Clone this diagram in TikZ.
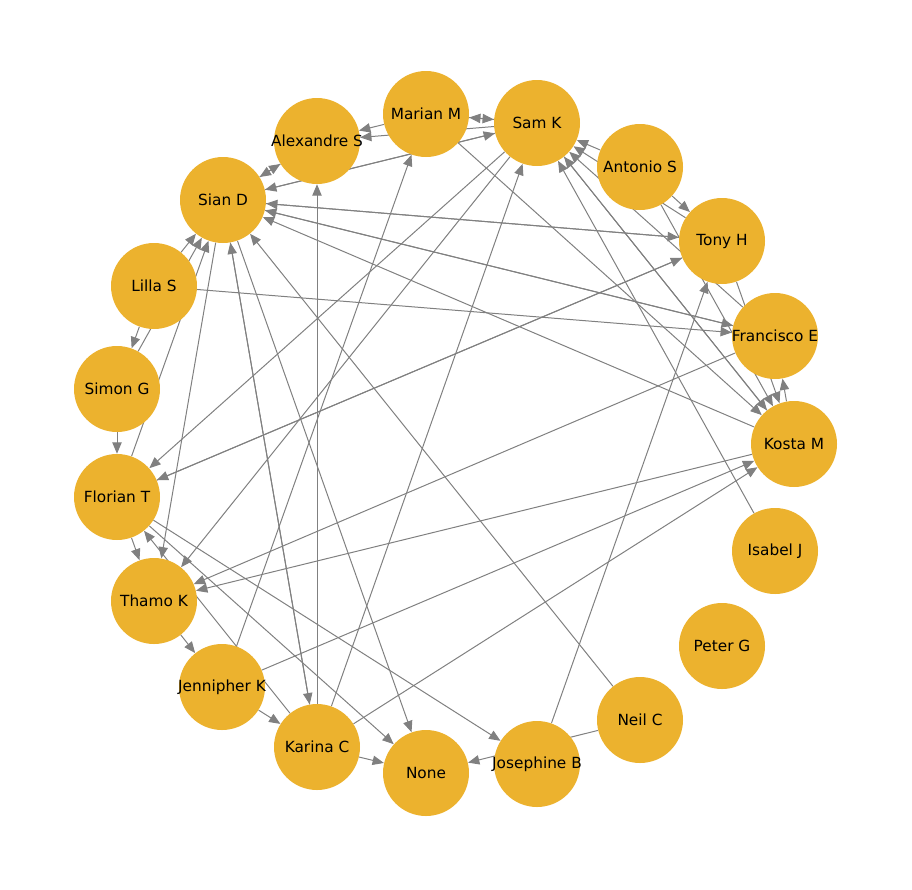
\documentclass[tikz,border=0pt]{standalone}
\usepackage{fontspec}
\setmainfont{DejaVu Sans}
\usetikzlibrary{backgrounds, arrows.meta}

\definecolor{ringgold}{RGB}{236,178,46}
\definecolor{linkgray}{RGB}{128,128,128}
\newcommand{\who}[1]{\makebox[0pt]{#1}}

\begin{document}
\begin{tikzpicture}[
    x=0.75pt, y=-0.75pt,
    person/.style={circle, fill=ringgold, inner sep=0pt, minimum size=64.5pt, font=\fontsize{11.5}{13}\selectfont},
    link/.style={draw=linkgray, line width=0.75pt, -{Triangle[length=8.5pt, width=7pt]}}
]
    \useasboundingbox (0,0) rectangle (912,889);

    % --- people on the ring ---
    \node[person] (marian)    at (426,114) {\who{Marian M}};
    \node[person] (sam)       at (537,123) {\who{Sam K}};
    \node[person] (alexandre) at (317,141) {\who{Alexandre S}};
    \node[person] (antonio)   at (640,167) {\who{Antonio S}};
    \node[person] (sian)      at (223,200) {\who{Sian D}};
    \node[person] (tony)      at (722,241) {\who{Tony H}};
    \node[person] (lilla)     at (154,286) {\who{Lilla S}};
    \node[person] (francisco) at (775,336) {\who{Francisco E}};
    \node[person] (simon)     at (117,389) {\who{Simon G}};
    \node[person] (kosta)     at (794,444) {\who{Kosta M}};
    \node[person] (florian)   at (117,497) {\who{Florian T}};
    \node[person] (isabel)    at (775,551) {\who{Isabel J}};
    \node[person] (thamo)     at (154,601) {\who{Thamo K}};
    \node[person] (peter)     at (722,646) {\who{Peter G}};
    \node[person] (jennipher) at (222,687) {\who{Jennipher K}};
    \node[person] (neil)      at (640,720) {\who{Neil C}};
    \node[person] (karina)    at (317,747) {\who{Karina C}};
    \node[person] (nobody)    at (426,773) {\who{None}};
    \node[person] (josephine) at (537,764) {\who{Josephine B}};

    % --- links, kept under the circles ---
    \begin{scope}[on background layer]
        \foreach \src/\dests in {
            sian/{alexandre,sam,tony,francisco,karina,nobody,thamo},
            alexandre/{sian},
            marian/{alexandre,sam,kosta},
            sam/{sian,alexandre,marian,florian,thamo,kosta},
            antonio/{sam,tony,kosta},
            tony/{sian,sam,kosta,florian},
            francisco/{sian,sam,thamo},
            kosta/{sian,sam,francisco,thamo},
            isabel/{sam},
            lilla/{simon,sian,francisco},
            simon/{sian,florian},
            florian/{sian,tony,thamo,josephine,nobody},
            thamo/{jennipher},
            jennipher/{karina,marian,kosta},
            karina/{sian,florian,kosta,nobody,alexandre,sam},
            josephine/{tony},
            neil/{nobody,sian}}
            \foreach \dst in \dests
                \draw[link] (\src) -- (\dst);
    \end{scope}

\end{tikzpicture}
\end{document}
